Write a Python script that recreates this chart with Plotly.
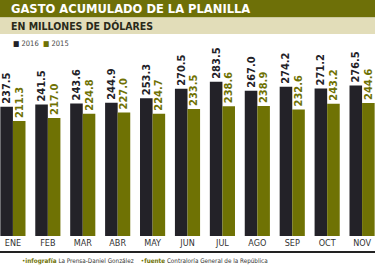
import plotly.graph_objects as go

months = ["ENE", "FEB", "MAR", "ABR", "MAY", "JUN", "JUL", "AGO", "SEP", "OCT", "NOV"]
v2016 = [237.5, 241.5, 243.6, 244.9, 253.3, 270.5, 283.5, 267.0, 274.2, 271.2, 276.5]
v2015 = [211.3, 217.0, 224.8, 227.0, 224.7, 233.5, 238.6, 238.9, 232.6, 243.2, 244.6]

BLACK = "#232228"
OLIVE = "#6f7204"
FONT = "DejaVu Sans Condensed, Liberation Sans Narrow, Arial Narrow, sans-serif"

W, H = 375, 267
def py(p):
    return (H - p) / H

fig = go.Figure()
fig.add_trace(go.Bar(
    x=months, y=v2016, name="2016", marker=dict(color=BLACK, line=dict(width=0)),
    text=[f"{v:.1f}" for v in v2016], textposition="outside", textangle=-90,
    textfont=dict(family=FONT, size=11, color=BLACK, weight="bold"),
    cliponaxis=False, constraintext="none", showlegend=False,
))
fig.add_trace(go.Bar(
    x=months, y=v2015, name="2015", marker=dict(color=OLIVE, line=dict(width=0)),
    text=[f"{v:.1f}" for v in v2015], textposition="outside", textangle=-90,
    textfont=dict(family=FONT, size=11, color=OLIVE, weight="bold"),
    cliponaxis=False, constraintext="none", showlegend=False,
))

shapes = [
    dict(type="rect", xref="paper", yref="paper", x0=0, x1=1, y0=py(17.5), y1=py(0),
         fillcolor="#6e7008", line=dict(width=0), layer="below"),
    dict(type="rect", xref="paper", yref="paper", x0=0, x1=1, y0=py(34), y1=py(17.5),
         fillcolor="#e2ddb9", line=dict(width=0), layer="below"),
    dict(type="line", xref="paper", yref="paper", x0=0, x1=1, y0=py(252), y1=py(252),
         line=dict(color="#222222", width=2)),
]

annotations = [
    dict(text="<b>GASTO ACUMULADO DE LA PLANILLA</b>", x=9 / W, y=py(9), xref="paper", yref="paper",
         xanchor="left", yanchor="middle", showarrow=False,
         font=dict(family=FONT, size=12.8, color="white")),
    dict(text="<b>EN MILLONES DE DÓLARES</b>", x=9 / W, y=py(26), xref="paper", yref="paper",
         xanchor="left", yanchor="middle", showarrow=False,
         font=dict(family=FONT, size=10.5, color="#2a2a1a")),
    dict(text=f"<span style='color:{BLACK}'>■</span> 2016  <span style='color:{OLIVE}'>■</span> 2015",
         x=11 / W, y=py(44), xref="paper", yref="paper",
         xanchor="left", yanchor="middle", showarrow=False,
         font=dict(family=FONT, size=7.5, color="#444444")),
    dict(text=f"<span style='color:{OLIVE}'>•<b>infografía</b></span> La Prensa-Daniel González    "
              f"<span style='color:{OLIVE}'>•<b>fuente</b></span> Contraloría General de la República",
         x=20 / W, y=py(261), xref="paper", yref="paper",
         xanchor="left", yanchor="middle", showarrow=False,
         font=dict(family=FONT, size=6.3, color="#333333")),
]

fig.update_layout(
    width=W, height=H,
    margin=dict(l=0, r=0, t=0, b=0),
    paper_bgcolor="white", plot_bgcolor="white",
    barmode="group", bargap=0.28, bargroupgap=0,
    shapes=shapes, annotations=annotations,
    xaxis=dict(range=[-0.37, 10.37], showgrid=False, zeroline=False, showline=False,
               ticks="", tickfont=dict(family=FONT, size=9, color="#333333"),
               automargin=False),
    yaxis=dict(range=[0, 176 / 0.544], domain=[py(236), py(60)], visible=False,
               automargin=False),
)

fig.write_html("out.html")
